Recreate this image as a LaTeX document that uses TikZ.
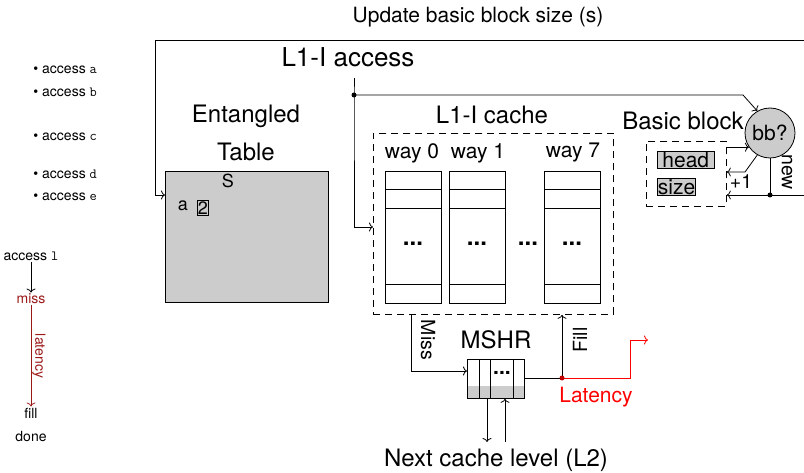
\documentclass[tikz,border=0pt]{standalone}
\usepackage{fontspec}
\setmainfont{TeX Gyre Heros}
\usetikzlibrary{arrows.meta}
\definecolor{darkred}{RGB}{155,25,25}
\definecolor{boxgray}{gray}{0.8}
\tikzset{
  txt/.style={font=\fontsize{21}{21}\selectfont, inner sep=1pt},
  midtxt/.style={font=\fontsize{19.5}{19.5}\selectfont, inner sep=1pt},
  bigtxt/.style={font=\fontsize{24}{24}\selectfont, inner sep=1pt},
  smalltxt/.style={font=\fontsize{14}{14}\selectfont, inner sep=1pt},
  dashbox/.style={draw, dash pattern=on 7pt off 5pt, inner sep=0pt},
  grayfld/.style={draw, fill=boxgray, inner sep=1pt},
}
\begin{document}
\begin{tikzpicture}[x=1pt,y=-1pt,line width=0.8pt,>={To[length=4pt,width=9pt]}]
\useasboundingbox (0,0) rectangle (804,473);
\clip (0,0) rectangle (804,473);
% liste des acces
\foreach \y/\c in {70/a,92/b,137/c,174/d,197/e}
  \node[smalltxt,anchor=west] (acc\c) at (32,\y) {\textbullet\ access \texttt{\c}};
% chronologie
\node[smalltxt] (accl) at (31,256) {access \texttt{l}};
\node[smalltxt,darkred] (miss) at (31,299) {miss};
\node[smalltxt] (fill) at (31,413) {fill};
\node[smalltxt] (done) at (31,437) {done};
\draw[->] (accl) -- (miss);
\draw[->,darkred] (miss) -- node[smalltxt,midway,rotate=-90,anchor=south] (lat) {latency} (fill);
% titre du haut
\node[txt] (upd) at (478,17) {Update basic block size (s)};
% Entangled table
\node[bigtxt] (etitle) at (246,116) {Entangled};
\node[bigtxt] (etitle2) at (246,152) {Table};
\node[draw,fill=boxgray,minimum width=163pt,minimum height=131pt,inner sep=0pt,anchor=north west] (etab) at (165,171) {};
\node[font=\fontsize{18}{18}\selectfont,inner sep=1pt] (tS) at (228,181) {S};
\node[font=\fontsize{18}{18}\selectfont,inner sep=1pt] (ta) at (183,206) {a};
\node[grayfld,font=\fontsize{18}{18}\selectfont,inner sep=0.8pt] (t2) at (203,208) {2};
% L1-I access
\node[font=\fontsize{26}{26}\selectfont,inner sep=1pt] (l1acc) at (348,57) {L1-I access};
\coordinate (l1top) at (354,78);
\coordinate (split) at (354,95);
\coordinate (cachein) at (373,227);
\draw[->] (l1top) -- (split) |- (cachein);
\fill (split) circle (2.5pt);
% L1-I cache
\node[bigtxt] (ctitle) at (492,115) {L1-I cache};
\node[dashbox,minimum width=240pt,minimum height=181pt,anchor=north west] (cache) at (373,133) {};
\foreach \x/\w in {412/0,478/1,573/7}
  \node[txt] (way\w) at (\x,153) {way \w};
\foreach \x in {385,449,544} {
  \draw (\x,171) rectangle ++(56,132);
  \draw (\x,189) -- ++(56,0);
  \draw (\x,208) -- ++(56,0);
  \draw (\x,284) -- ++(56,0);
  \node[bigtxt] (dots\x) at (\x+28,244) {\textbf{...}};
}
\node[bigtxt] (dotsmid) at (528,244) {\textbf{...}};
% Basic block
\node[bigtxt] (bbtitle) at (683,121) {Basic block};
\node[circle,draw,fill=boxgray,minimum size=50pt,inner sep=0pt,txt] (bb) at (770,133) {bb?};
\node[dashbox,minimum width=80pt,minimum height=65pt,anchor=north west] (bbbox) at (646,141) {};
\node[grayfld,txt,inner xsep=5pt,anchor=west] (head) at (657,160) {head};
\node[grayfld,txt,inner xsep=0.5pt,anchor=west] (size) at (657,187) {size};
\draw[->] (split) -- (743,95) -- (bb.120);
\draw[->] (bbbox.east |- bb.214) -- (bb.214);
\coordinate (plusk) at (745,172);
\draw[->] (bb.240) -- (plusk) -- (bbbox.east |- plusk);
\node[midtxt] (plus1) at (741,182) {+1};
\coordinate (newdot) at (770,195);
\draw[->] (bb.south) -- (newdot) -- (bbbox.east |- newdot);
\fill (newdot) circle (2.5pt);
\node[midtxt,rotate=-90] (newlbl) at (787,172) {new};
% retour vers la table
\draw[->] (newdot) -- (812,195) -- (812,40) -- (155,40) |- (etab.west |- 0,195);
% MSHR
\node[bigtxt] (mshrttl) at (496,340) {MSHR};
\fill[boxgray] (467,386) rectangle (524,398);
\node[draw,minimum width=57pt,minimum height=39pt,inner sep=0pt,anchor=north west] (mshr) at (467,359) {};
\draw (479,359) -- (479,398);
\draw (490,359) -- (490,398);
\draw (513,359) -- (513,398);
\node[txt] (mshrdots) at (502,373) {\textbf{...}};
\coordinate (missin) at (467,371);
\draw[->] (cache.south -| 411,0) |- (missin);
\node[midtxt,rotate=-90] (misslbl) at (428,340) {Miss};
\coordinate (filldot) at (562,378);
\draw (mshr.east |- filldot) -- (filldot);
\draw[->] (filldot) -- (filldot |- cache.south);
\node[midtxt,rotate=90] (filllbl) at (580,340) {Fill};
\coordinate (latout) at (648,340);
\draw[->,red] (filldot) -- (630,378) -- (630,340) -- (latout);
\fill[red!75!black] (filldot) circle (2.5pt);
\node[txt,red] (latlbl) at (596,397) {Latency};
% niveau suivant
\node[bigtxt] (l2) at (496,460) {Next cache level (L2)};
\coordinate (l2down) at (487,442);
\coordinate (l2up) at (505,442);
\draw[->] (mshr.south -| l2down) -- (l2down);
\draw[->] (l2up) -- (mshr.south -| l2up);
\end{tikzpicture}
\end{document}
